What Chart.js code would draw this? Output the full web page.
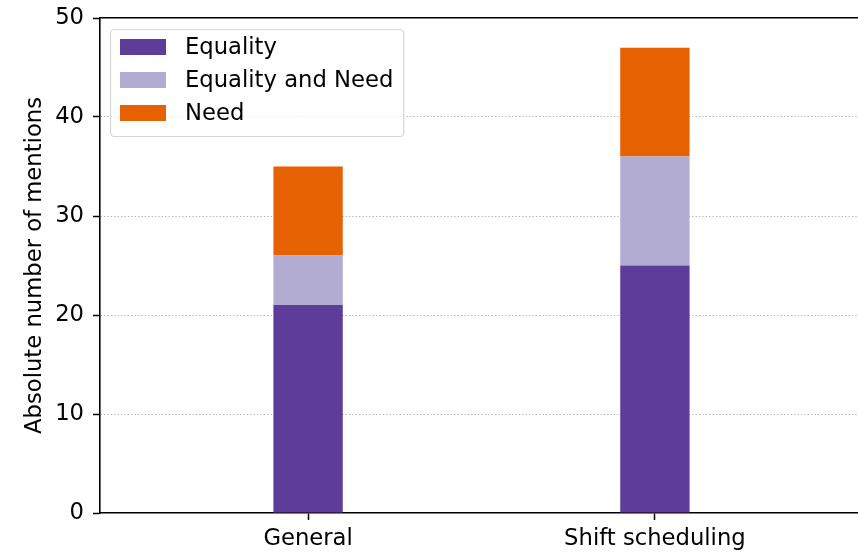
<!DOCTYPE html>
<html>
<head>
<meta charset="utf-8">
<script src="https://cdn.jsdelivr.net/npm/chart.js@4"></script>
<style>
  html, body { margin: 0; padding: 0; background: #fff; overflow: hidden; }
  #wrap { width: 863px; height: 552px; }
</style>
</head>
<body>
<div id="wrap"><canvas id="mentionsChart"></canvas></div>
<script>
// categories along the x-axis
var categories = ["General", "Shift scheduling"];
// stacked series, bottom to top
var equality = [21, 25];
var equalityAndNeed = [5, 11];
var need = [9, 11];
var yTicks = [0, 10, 20, 30, 40, 50];

var seriesNames = ["Equality", "Equality and Need", "Need"];
var seriesColors = ["#5e3c99", "#b2abd2", "#e66101"];

var FONT = "'DejaVu Sans', sans-serif";
var FSIZE = 22.7;

function toPoints(arr) {
    return arr.map(function(v, i) { return { x: i, y: v }; });
}

// legend box drawn inside the plot, matplotlib style
var boxLegend = {
    id: 'boxLegend',
    afterDraw: function(chart) {
        var ctx = chart.ctx;
        var ds = chart.data.datasets;
        ctx.save();
        ctx.font = FSIZE + "px " + FONT;
        var maxW = 0;
        for (var i = 0; i < ds.length; i++) {
            maxW = Math.max(maxW, ctx.measureText(ds[i].label).width);
        }
        var left = chart.chartArea.left + 10, top = chart.chartArea.top + 11;
        var w = 75 + maxW + 10, h = 107;
        ctx.beginPath();
        ctx.roundRect(left + 0.5, top + 0.5, w, h, 4);
        ctx.fillStyle = "rgba(255,255,255,0.8)";
        ctx.fill();
        ctx.strokeStyle = "#d6d6d6";
        ctx.lineWidth = 1.2;
        ctx.stroke();
        ctx.textBaseline = "middle";
        for (var j = 0; j < ds.length; j++) {
            var rowY = top + 18 + j * 33;
            ctx.fillStyle = ds[j].backgroundColor;
            ctx.fillRect(left + 10, rowY - 8, 46, 16);
            ctx.fillStyle = "#000";
            ctx.fillText(ds[j].label, left + 75, rowY + 1);
        }
        ctx.restore();
    }
};

var ctx = document.getElementById("mentionsChart");
var theChart = new Chart(ctx, {
    type: 'bar',
    data: {
        datasets: [
            { label: seriesNames[0], data: toPoints(equality), backgroundColor: seriesColors[0] },
            { label: seriesNames[1], data: toPoints(equalityAndNeed), backgroundColor: seriesColors[1] },
            { label: seriesNames[2], data: toPoints(need), backgroundColor: seriesColors[2] }
        ]
    },
    options: {
        responsive: true,
        maintainAspectRatio: false,
        animation: false,
        barPercentage: 0.2,
        categoryPercentage: 1.0,
        layout: { padding: { top: 18, right: 0, bottom: 0, left: 0 } },
        plugins: {
            legend: { display: false },
            tooltip: { enabled: false }
        },
        scales: {
            x: {
                type: 'linear',
                offset: false,
                stacked: true,
                min: -0.6,
                max: 1.6,
                afterBuildTicks: function(scale) {
                    scale.ticks = categories.map(function(c, i) { return { value: i }; });
                },
                afterFit: function(scale) {
                    scale.height = 39;
                    scale.paddingLeft = 0;
                    scale.paddingRight = 0;
                },
                ticks: {
                    callback: function(v) { return categories[v]; },
                    color: '#000',
                    font: { family: FONT, size: FSIZE },
                    padding: 5,
                    maxRotation: 0
                },
                grid: { offset: false, drawOnChartArea: false, tickLength: 7, tickColor: '#000', tickWidth: 1.5 },
                border: { color: '#000', width: 1.6 }
            },
            top: {
                type: 'linear',
                position: 'top',
                offset: false,
                min: -0.6,
                max: 1.6,
                afterFit: function(scale) { scale.height = 0; },
                ticks: { display: false },
                grid: { display: false },
                border: { display: true, color: '#000', width: 1.6 }
            },
            y: {
                stacked: true,
                min: 0,
                max: 50,
                afterBuildTicks: function(scale) {
                    scale.ticks = yTicks.map(function(v) { return { value: v }; });
                },
                afterFit: function(scale) {
                    scale.width = 100;
                    scale.paddingTop = 0;
                    scale.paddingBottom = 0;
                },
                ticks: {
                    color: '#000',
                    font: { family: FONT, size: FSIZE },
                    padding: 9
                },
                title: {
                    display: true,
                    text: 'Absolute number of mentions',
                    color: '#000',
                    font: { family: FONT, size: FSIZE },
                    padding: { top: 21, bottom: 0 }
                },
                grid: {
                    color: function(c) { return (c.tick && (c.tick.value === 0 || c.tick.value === 50)) ? 'rgba(0,0,0,0)' : '#b0b0b0'; },
                    lineWidth: 1,
                    tickLength: 7,
                    tickColor: '#000',
                    tickWidth: 1.5,
                    tickBorderDash: []
                },
                border: { color: '#000', width: 1.6, dash: [1.3, 2.1] }
            }
        }
    },
    plugins: [boxLegend]
});
</script>
</body>
</html>
